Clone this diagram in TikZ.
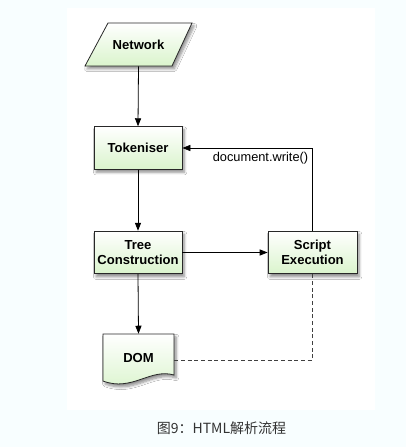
\documentclass[tikz,border=0pt]{standalone}
\usepackage{fontspec}
\setmainfont{Liberation Sans}
\newfontfamily\cjkfont{Noto Sans CJK SC}
\usetikzlibrary{arrows.meta,shadows.blur,calc}
\definecolor{bgblue}{RGB}{248,254,255}
\definecolor{boxgreen}{RGB}{218,244,204}
\definecolor{edgegray}{RGB}{40,40,40}
\definecolor{captiongray}{RGB}{51,51,51}
\tikzset{
  boxfill/.style={top color=white, bottom color=boxgreen, draw=edgegray, line width=0.6pt,
    blur shadow={shadow xshift=1.6pt, shadow yshift=-2.2pt, shadow blur steps=6, shadow opacity=45, shadow blur radius=2pt}},
  procbox/.style={boxfill, rectangle, minimum width=66pt, minimum height=32pt, inner sep=0pt,
    align=center, font=\bfseries\fontsize{9.8}{11.3}\selectfont},
  plainlabel/.style={inner sep=0pt, font=\bfseries\fontsize{9.8}{11.3}\selectfont},
  flow/.style={draw=black, line width=0.6pt, -{Triangle[length=6pt,width=4.6pt]}},
  dashflow/.style={draw=black!75, line width=0.6pt, dash pattern=on 3pt off 2pt},
}
\begin{document}
\begin{tikzpicture}[x=0.75pt,y=-0.75pt]
\useasboundingbox (0,0) rectangle (406,447);
\fill[bgblue] (0,0) rectangle (406,447);
\fill[white] (67,8) rectangle (375,410);
% Network parallelogram
\path[boxfill] (85,66) -- (108,23) -- (192,23) -- (172,66) -- cycle;
\node[plainlabel, minimum width=65pt, minimum height=32.25pt] (net) at (138.5,44.5) {Network};
% boxes
\node[procbox] (tok) at (138,148) {Tokeniser};
\node[procbox] (tree) at (138,252.5) {Tree\\Construction};
\node[procbox, minimum width=66.75pt] (script) at (312.5,252.5) {Script\\Execution};
% DOM document
\path[boxfill] (103,334) -- (174,334) -- (174,375) .. controls (150,368) and (132,392) .. (103,381) -- cycle;
\node[plainlabel, minimum width=53.25pt, minimum height=36pt] (dom) at (138.5,358) {DOM};
% connectors
\draw[flow] (net.south) -- (tok.north);
\draw[flow] (tok.south) -- (tree.north);
\draw[flow] (tree.south) -- (dom.north);
\draw[flow] (tree.east) -- (script.west);
\draw[flow] (script.north) |- (tok.east);
\node[inner sep=0pt, font=\fontsize{9.6}{11}\selectfont] (dw) at (260.5,158.5) {document.write()};
\draw[dashflow] ([yshift=-1.5pt]dom.east) -| (script.south);
% caption
\node[inner sep=0pt, text=captiongray, font=\cjkfont\fontsize{10.5}{12}\selectfont] (cap) at (221.5,428) {图9：HTML解析流程};
\end{tikzpicture}
\end{document}
